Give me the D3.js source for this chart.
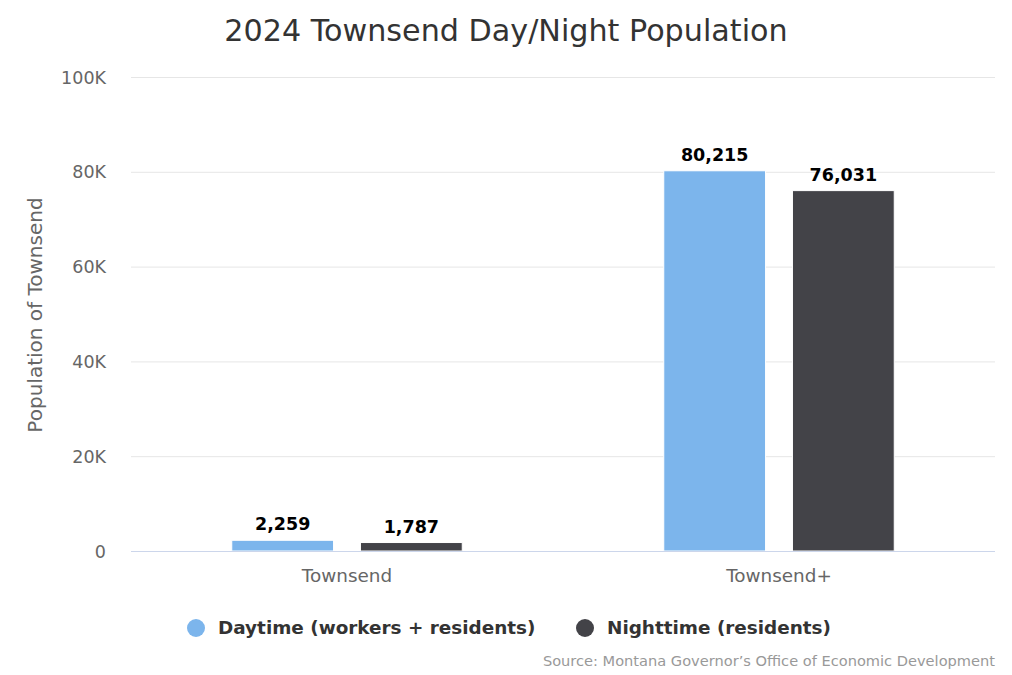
<!DOCTYPE html>
<html>
<head>
<meta charset="utf-8">
<script src="https://cdn.jsdelivr.net/npm/d3@7"></script>
<style>
  body { margin: 0; background: #fff; }
  svg { font-family: "DejaVu Sans", sans-serif; }
</style>
</head>
<body>
<svg id="chart" width="1012" height="675"></svg>
<script>
const categories = ['Townsend', 'Townsend+'];
const seriesNames = ['Daytime (workers + residents)', 'Nighttime (residents)'];
const seriesColors = ['#7cb5ec', '#434348'];
const daytime = [2259, 80215];
const nighttime = [1787, 76031];
const yTicks = [0, 20000, 40000, 60000, 80000, 100000];

const width = 1012;
const height = 675;
const margin = {top: 77, right: 17, bottom: 124, left: 131};

const svg = d3.select('#chart');

const x0 = d3.scaleBand()
  .domain(categories)
  .range([margin.left, width - margin.right]);

const x1 = d3.scaleBand()
  .domain(seriesNames)
  .range([0, x0.bandwidth()])
  .paddingInner(0.209)
  .paddingOuter(0.783);

const y = d3.scaleLinear()
  .domain([0, 100000])
  .range([height - margin.bottom, margin.top]);

// gridlines
svg.append('g')
  .selectAll('line')
  .data(yTicks.slice(1))
  .join('line')
  .attr('x1', margin.left)
  .attr('x2', width - margin.right)
  .attr('y1', (d) => y(d) + 0.5)
  .attr('y2', (d) => y(d) + 0.5)
  .attr('stroke', '#e6e6e6');

// y axis labels
const yAxis = svg.append('g')
  .attr('transform', `translate(${margin.left - 22},0)`)
  .call(d3.axisLeft(y).tickValues(yTicks).tickSize(0).tickFormat((d) => d === 0 ? '0' : d / 1000 + 'K'));
yAxis.select('.domain').remove();
yAxis.selectAll('text')
  .attr('fill', '#666')
  .attr('font-size', 17.5)
  .attr('font-family', '"DejaVu Sans", sans-serif')
  .attr('dy', '0.35em');

svg.append('text')
  .attr('transform', `translate(42,${(margin.top + height - margin.bottom) / 2 + 1}) rotate(-90)`)
  .attr('text-anchor', 'middle')
  .attr('fill', '#666')
  .attr('font-size', 20)
  .text('Population of Townsend');

// bars
const rows = categories.map((c, i) => ({cat: c, values: [daytime[i], nighttime[i]]}));

const groups = svg.append('g')
  .selectAll('g')
  .data(rows)
  .join('g')
  .attr('transform', (d) => `translate(${x0(d.cat)},0)`);

groups.selectAll('rect')
  .data((d) => d.values.map((v, j) => ({name: seriesNames[j], value: v, color: seriesColors[j]})))
  .join('rect')
  .attr('x', (d) => x1(d.name))
  .attr('width', x1.bandwidth())
  .attr('y', (d) => y(d.value))
  .attr('height', (d) => y(0) - y(d.value))
  .attr('fill', (d) => d.color)
  .attr('stroke', '#fff')
  .attr('stroke-width', 1);

groups.selectAll('text')
  .data((d) => d.values.map((v, j) => ({name: seriesNames[j], value: v})))
  .join('text')
  .attr('x', (d) => x1(d.name) + x1.bandwidth() / 2)
  .attr('y', (d) => y(d.value) - 10)
  .attr('text-anchor', 'middle')
  .attr('font-size', 17.5)
  .attr('font-weight', 'bold')
  .attr('fill', '#000')
  .text((d) => d3.format(',')(d.value));

// x axis
svg.append('line')
  .attr('x1', margin.left)
  .attr('x2', width - margin.right)
  .attr('y1', y(0) + 0.5)
  .attr('y2', y(0) + 0.5)
  .attr('stroke', '#ccd6eb');

svg.append('g')
  .selectAll('text')
  .data(categories)
  .join('text')
  .attr('x', (d) => x0(d) + x0.bandwidth() / 2)
  .attr('y', y(0) + 31)
  .attr('text-anchor', 'middle')
  .attr('fill', '#666')
  .attr('font-size', 18.4)
  .text((d) => d);

// title
svg.append('text')
  .attr('x', 506)
  .attr('y', 41)
  .attr('text-anchor', 'middle')
  .attr('fill', '#333')
  .attr('font-size', 30.2)
  .text('2024 Townsend Day/Night Population');

// legend
const legendX = [196, 585];
const legend = svg.append('g')
  .selectAll('g')
  .data(seriesNames)
  .join('g')
  .attr('transform', (d, i) => `translate(${legendX[i]},628)`);

legend.append('circle')
  .attr('r', 9)
  .attr('fill', (d, i) => seriesColors[i]);

legend.append('text')
  .attr('x', 22)
  .attr('dy', '0.35em')
  .attr('font-size', 18.4)
  .attr('font-weight', 'bold')
  .attr('fill', '#333')
  .text((d) => d);

svg.append('text')
  .attr('x', width - margin.right)
  .attr('y', 666)
  .attr('text-anchor', 'end')
  .attr('fill', '#999')
  .attr('font-size', 14.6)
  .text('Source: Montana Governor\u2019s Office of Economic Development');
</script>
</body>
</html>
